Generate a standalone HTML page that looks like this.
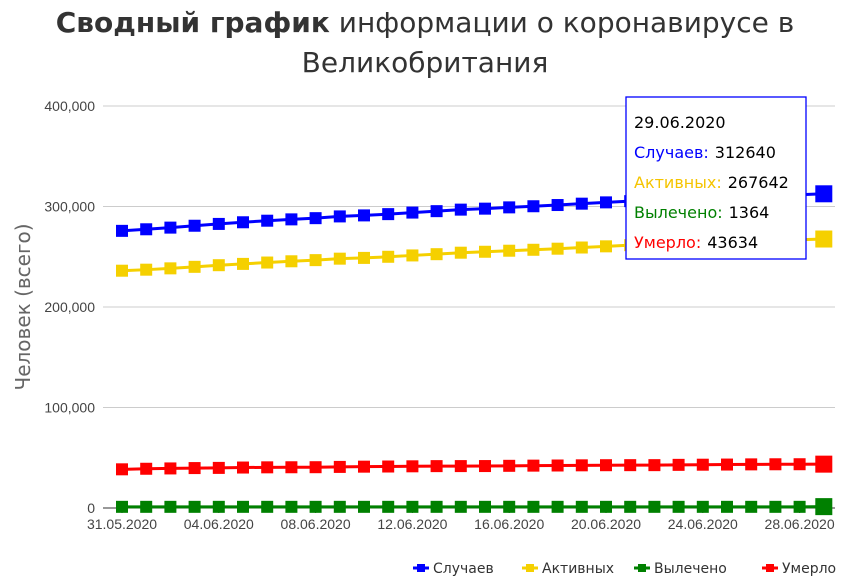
<!DOCTYPE html>
<html><head><meta charset="utf-8"><style>
body{margin:0;width:851px;height:579px;background:#fff;font-family:"Liberation Sans","DejaVu Sans",sans-serif;overflow:hidden}
svg text{font-family:"DejaVu Sans","Liberation Sans",sans-serif}
svg text.tk{font-family:"Liberation Sans","DejaVu Sans",sans-serif}
</style></head><body>
<svg width="851" height="579">
<g>
<text x="425" y="32" text-anchor="middle" font-size="28" fill="#333"><tspan font-weight="bold">Сводный график</tspan> информации о коронавирусе в</text>
<text x="425" y="72" text-anchor="middle" font-size="28" fill="#333">Великобритания</text>
</g>
<g id="grid"></g><g id="yticks"></g><g id="xticks"></g><g id="series"></g>
<text transform="translate(30,307) rotate(-90)" text-anchor="middle" font-size="20" fill="#666">Человек (всего)</text>
<g id="legend"></g>
<g>
<rect x="626" y="97" width="180" height="162" fill="#fff" stroke="#0000ff" stroke-width="1.3"/>
<text x="634" y="128" font-size="16" fill="#000">29.06.2020</text>
<text x="634" y="158" font-size="16"><tspan fill="#00f">Случаев:</tspan><tspan fill="#000" dx="6">312640</tspan></text>
<text x="634" y="188" font-size="16"><tspan fill="#f5c400">Активных:</tspan><tspan fill="#000" dx="6">267642</tspan></text>
<text x="634" y="218" font-size="16"><tspan fill="#008000">Вылечено:</tspan><tspan fill="#000" dx="6">1364</tspan></text>
<text x="634" y="248" font-size="16"><tspan fill="#f00">Умерло:</tspan><tspan fill="#000" dx="6">43634</tspan></text>
</g>
</svg>
<script>
const dates=["31.05.2020","01.06.2020","02.06.2020","03.06.2020","04.06.2020","05.06.2020","06.06.2020","07.06.2020","08.06.2020","09.06.2020","10.06.2020","11.06.2020","12.06.2020","13.06.2020","14.06.2020","15.06.2020","16.06.2020","17.06.2020","18.06.2020","19.06.2020","20.06.2020","21.06.2020","22.06.2020","23.06.2020","24.06.2020","25.06.2020","26.06.2020","27.06.2020","28.06.2020","29.06.2020"];
const cases=[275762,277332,278985,280856,282661,284311,285868,287194,288399,290140,291143,292409,293950,295375,296889,297857,299136,300251,301469,302815,304110,305331,306289,307210,307862,308980,310360,311250,311651,312640];
const recovered=[1161,1161,1161,1161,1161,1161,1161,1161,1161,1161,1161,1161,1161,1161,1161,1161,1161,1161,1161,1161,1161,1161,1161,1161,1161,1161,1161,1161,1161,1364];
const deaths=[38489,39045,39369,39728,39904,40261,40465,40542,40597,40883,41128,41279,41481,41662,41698,41736,41969,42153,42288,42461,42589,42632,42647,42927,43081,43230,43414,43514,43550,43634];
const active=cases.map((c,i)=>c-recovered[i]-deaths[i]);
const yTicks=[0,100000,200000,300000,400000];
const xTickLabels=["31.05.2020","04.06.2020","08.06.2020","12.06.2020","16.06.2020","20.06.2020","24.06.2020","28.06.2020"];
const NS="http://www.w3.org/2000/svg";
const X0=122,DX=24.2,Y0=508,YS=402/400000;
const xs=i=>X0+i*DX, ys=v=>Y0-v*YS;
function mk(t,a,p){const e=document.createElementNS(NS,t);for(const k in a)e.setAttribute(k,a[k]);p.appendChild(e);return e;}
const grid=document.getElementById('grid'),yt=document.getElementById('yticks'),xt=document.getElementById('xticks'),ser=document.getElementById('series'),leg=document.getElementById('legend');
yTicks.forEach(v=>{
 const l=mk('line',{x1:103,x2:835,y1:ys(v),y2:ys(v),stroke:v===0?'#333':'#ccc','stroke-width':1},grid);
 
 
 const t=mk('text',{x:95,y:ys(v)+5,'text-anchor':'end','font-size':14,fill:'#444',class:'tk'},yt);
 
 
 t.textContent=v.toLocaleString('en-US');
});
xTickLabels.forEach(d=>{
 const i=dates.indexOf(d);
 const l=mk('line',{x1:xs(i),x2:xs(i),y1:Y0,y2:Y0+5,stroke:'#333'},xt);
 
 
 const t=mk('text',{x:xs(i),y:Y0+21,'text-anchor':'middle','font-size':14,fill:'#444',class:'tk'},xt);
 
 
 t.textContent=d;
});
const S=[["cases",cases,"#00f","Случаев"],["active",active,"#f5d000","Активных"],["recovered",recovered,"#008000","Вылечено"],["deaths",deaths,"#f00","Умерло"]];
S.forEach(([n,vals,col])=>{
 const g=mk('g',{},ser);
 
 
 const p=mk('polyline',{points:vals.map((v,i)=>xs(i)+','+ys(v)).join(' '),fill:'none',stroke:col,'stroke-width':3},g);
 
 
 vals.forEach((v,i)=>{
  const s=i===vals.length-1?17:12;
  const r=mk('rect',{x:xs(i)-s/2,y:ys(v)-s/2,width:s,height:s,fill:col},g);
  
  
 });
});
const lx=[413,522,634,762];
S.forEach(([n,v,col,lab],k)=>{
 const g=mk('g',{},leg);
 
 
 mk('line',{x1:lx[k],x2:lx[k]+16,y1:568,y2:568,stroke:col,'stroke-width':3},g);
 mk('rect',{x:lx[k]+4,y:564,width:8,height:8,fill:col},g);
 const t=mk('text',{x:lx[k]+20,y:573,'font-size':14,fill:'#333'},g);
 t.textContent=lab;
});
</script>
</body></html>
